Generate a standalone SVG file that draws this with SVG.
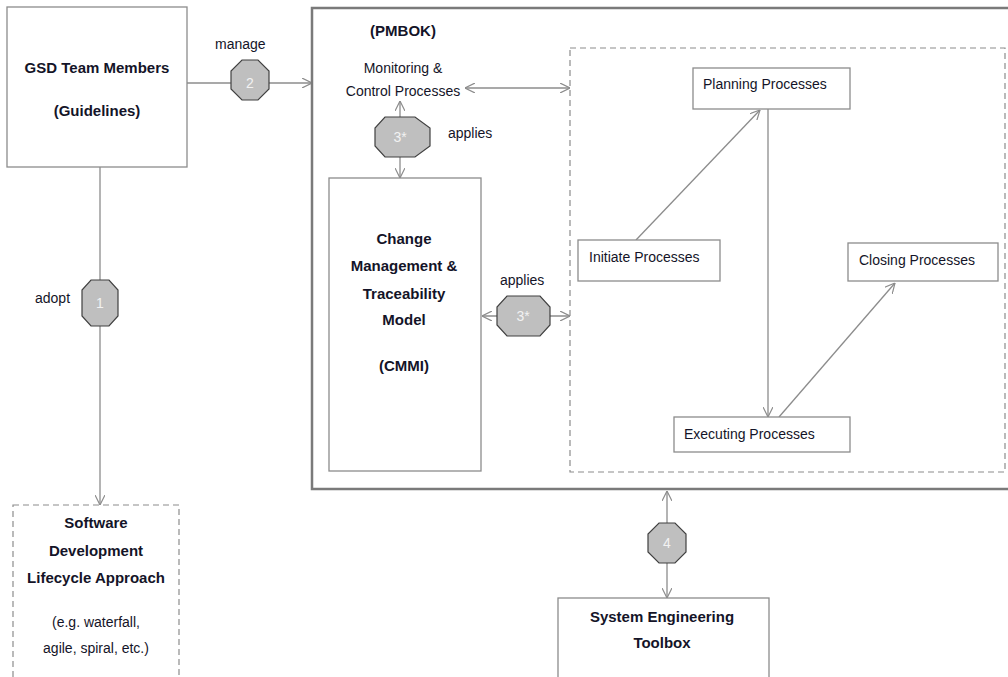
<svg xmlns="http://www.w3.org/2000/svg" width="1008" height="677" viewBox="0 0 1008 677">
<defs>
<marker id="ah" viewBox="0 0 10 10" refX="10" refY="5" markerWidth="10" markerHeight="10" markerUnits="userSpaceOnUse" orient="auto-start-reverse">
<path d="M0,0 L10,5 L0,10" fill="none" stroke="#8c8c8c" stroke-width="1.2"/>
</marker>
</defs>
<style>
.box{fill:#fff;stroke:#8c8c8c;stroke-width:1.3}
.dash{fill:none;stroke:#8c8c8c;stroke-width:1.2;stroke-dasharray:6 4}
.outer{fill:none;stroke:#7a7a7a;stroke-width:2.5}
.ln{fill:none;stroke:#8c8c8c;stroke-width:1.3}
.oct{fill:#bfbfbf;stroke:#404040;stroke-width:1.2}
.ot{font-family:"Liberation Sans",Arial,sans-serif;font-size:14px;fill:#f2f2f2;text-anchor:middle}
.t{font-family:"Liberation Sans",Arial,sans-serif;font-size:14px;fill:#141428}
.b{font-family:"Liberation Sans",Arial,sans-serif;font-size:15px;font-weight:bold;fill:#141428;text-anchor:middle}
.c{text-anchor:middle}
</style>
<rect width="1008" height="677" fill="#fff"/>

<g id="connectors">
<line class="ln" x1="187" y1="83" x2="312" y2="83" marker-end="url(#ah)"/>
<line class="ln" x1="100" y1="167" x2="100" y2="505" marker-end="url(#ah)"/>
<line class="ln" x1="400" y1="101" x2="400" y2="178" marker-start="url(#ah)" marker-end="url(#ah)"/>
<line class="ln" x1="465" y1="88" x2="570" y2="88" marker-start="url(#ah)" marker-end="url(#ah)"/>
<line class="ln" x1="482" y1="316" x2="570" y2="316" marker-start="url(#ah)" marker-end="url(#ah)"/>
<line class="ln" x1="636" y1="240" x2="760" y2="110" marker-end="url(#ah)"/>
<line class="ln" x1="768" y1="109" x2="768" y2="417" marker-end="url(#ah)"/>
<line class="ln" x1="779" y1="417" x2="895" y2="283" marker-end="url(#ah)"/>
<line class="ln" x1="667" y1="491" x2="667" y2="598" marker-start="url(#ah)" marker-end="url(#ah)"/>
</g>

<g id="gsd">
<rect class="box" x="7" y="7" width="180" height="160"/>
<text class="b" x="97" y="73">GSD Team Members</text>
<text class="b" x="97" y="116">(Guidelines)</text>
</g>

<g id="pmbok">
<rect class="outer" x="312" y="8" width="700" height="481"/>
<text class="b" x="403" y="36">(PMBOK)</text>
<text class="t c" x="403" y="73">Monitoring &amp;</text>
<text class="t c" x="403" y="96">Control Processes</text>
<text class="t" x="448" y="138">applies</text>
</g>

<g id="process-groups">
<rect class="dash" x="570" y="48" width="435" height="424"/>
</g>

<g id="cmmi">
<rect class="box" x="329" y="178" width="152" height="293"/>
<text class="b" x="404" y="244">Change</text>
<text class="b" x="404" y="271">Management &amp;</text>
<text class="b" x="404" y="299">Traceability</text>
<text class="b" x="404" y="325">Model</text>
<text class="b" x="404" y="371">(CMMI)</text>
</g>

<g id="planning">
<rect class="box" x="693" y="68" width="157" height="41"/>
<text class="t" x="703" y="89">Planning Processes</text>
</g>
<g id="initiate">
<rect class="box" x="578" y="240" width="142" height="41"/>
<text class="t" x="589" y="262">Initiate Processes</text>
</g>
<g id="closing">
<rect class="box" x="848" y="243" width="150" height="38"/>
<text class="t" x="859" y="265">Closing Processes</text>
</g>
<g id="executing">
<rect class="box" x="674" y="417" width="176" height="35"/>
<text class="t" x="684" y="439">Executing Processes</text>
</g>

<g id="sdlc">
<rect class="dash" x="13" y="505" width="166" height="180"/>
<text class="b" x="96" y="528">Software</text>
<text class="b" x="96" y="556">Development</text>
<text class="b" x="96" y="583">Lifecycle Approach</text>
<text class="t c" x="96" y="627">(e.g. waterfall,</text>
<text class="t c" x="96" y="653">agile, spiral, etc.)</text>
</g>

<g id="toolbox">
<rect class="box" x="558" y="598" width="211" height="90"/>
<text class="b" x="662" y="622">System Engineering</text>
<text class="b" x="662" y="648">Toolbox</text>
</g>

<g id="step1">
<polygon class="oct" points="91,280 109,280 118,290 118,316 109,326 91,326 82,316 82,290"/>
<text class="ot" x="100" y="308">1</text>
<text class="t" x="35" y="303">adopt</text>
</g>
<g id="step2">
<polygon class="oct" points="242,60 258,60 269,71 269,89 258,100 242,100 231,89 231,71"/>
<text class="ot" x="250" y="88">2</text>
<text class="t" x="215" y="49">manage</text>
</g>
<g id="step3a">
<polygon class="oct" points="385,117 415,117 430,128 430,146 415,157 385,157 375,146 375,128"/>
<text class="ot" x="400" y="142">3*</text>
</g>
<g id="step3b">
<polygon class="oct" points="507,296 540,296 550,307 550,325 540,336 507,336 497,325 497,307"/>
<text class="ot" x="523" y="321">3*</text>
<text class="t" x="500" y="285">applies</text>
</g>
<g id="step4">
<polygon class="oct" points="659,523 675,523 686,534 686,552 675,563 659,563 648,552 648,534"/>
<text class="ot" x="667" y="548">4</text>
</g>
</svg>
